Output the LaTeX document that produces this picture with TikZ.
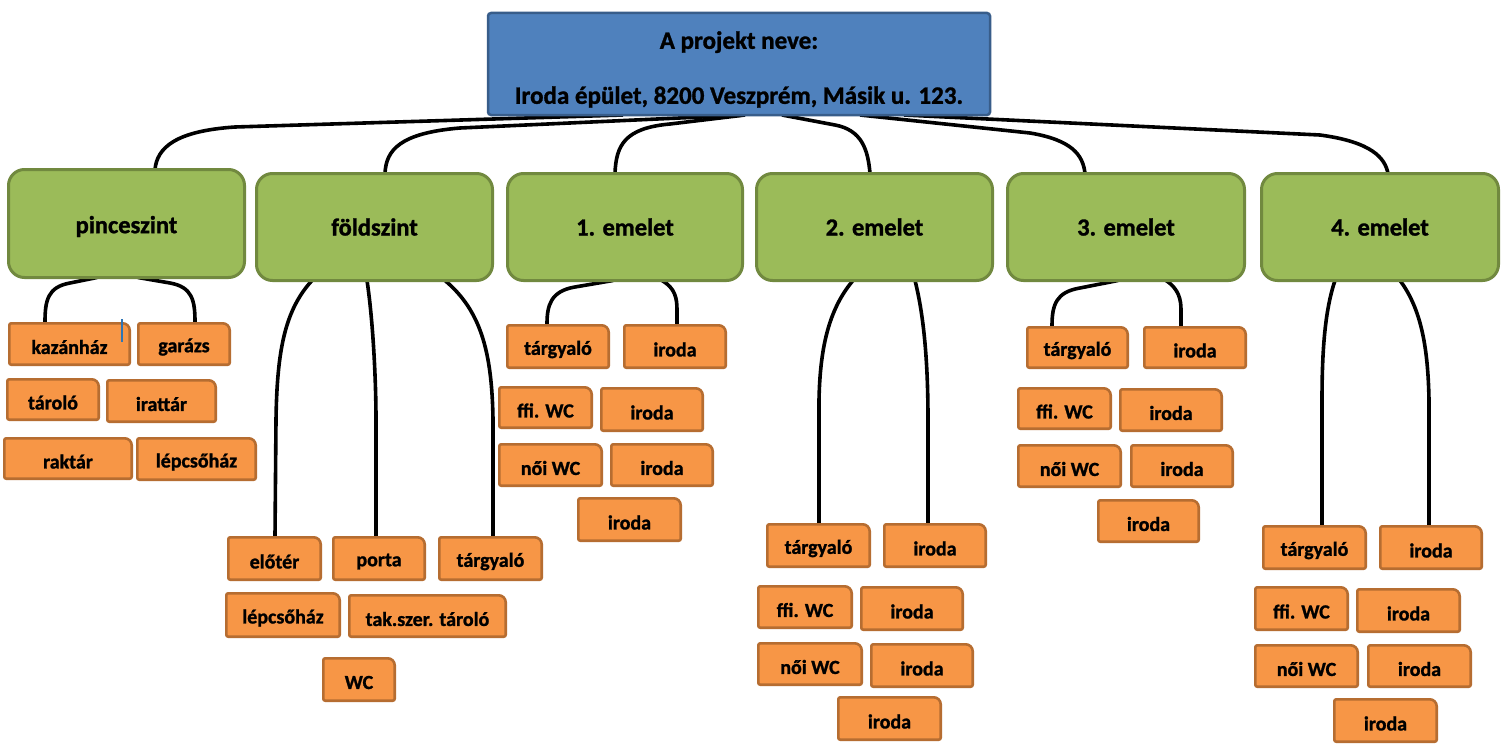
\documentclass[tikz,border=0pt]{standalone}
\usepackage{fontspec}
\setmainfont{Carlito}[BoldFeatures={FakeBold=1.2}]
\usetikzlibrary{calc,backgrounds}
\definecolor{rootfill}{HTML}{4F81BD}
\definecolor{rootdraw}{HTML}{385D8A}
\definecolor{grfill}{HTML}{9BBB59}
\definecolor{grdraw}{HTML}{71893F}
\definecolor{orfill}{HTML}{F79646}
\definecolor{ordraw}{HTML}{B66D31}
\definecolor{cursorblue}{HTML}{2E75B6}
\tikzset{
  conn/.style={line width=3.6pt, black},
  rootbox/.style={draw=rootdraw, fill=rootfill, line width=2.5pt, rounded corners=3pt, inner sep=0pt, outer sep=0pt},
  roottext/.style={inner sep=0pt, outer sep=0pt, align=center, font=\bfseries\fontsize{25}{30}\selectfont},
  gbox/.style={draw=grdraw, fill=grfill, line width=3pt, rounded corners=16pt, inner sep=0pt, outer sep=0pt, font=\bfseries\fontsize{24.5}{28}\selectfont},
  otext/.style={inner sep=0pt, outer sep=0pt, font=\bfseries\fontsize{20}{24}\selectfont},
  oframe/.style={draw=ordraw, fill=orfill, line width=2.6pt},
}
\newcommand{\lowertext}[1]{\raisebox{-3pt}[\height][\depth]{#1}}
\newcommand{\obox}[6]{%
  \draw[oframe] [rounded corners=2pt] (#2+1.3,#5-1.3) -- (#2+1.3,#3+1.3) [rounded corners=7pt] -- (#4-1.3,#3+1.3) [rounded corners=2pt] -- (#4-1.3,#5-1.3) -- cycle;
  \node[otext, minimum width={#4-#2}, minimum height={#5-#3}] (#1) at ({(#2+#4)/2},{(#3+#5)/2}) {\lowertext{#6}};
}
\begin{document}
\begin{tikzpicture}[x=1pt, y=-1pt]
\useasboundingbox (0,0) rectangle (1505,752);

% root
\node[rootbox, minimum width=502, minimum height=102] (root) at (739,64) {};
\node[roottext] (roottxt) at (739,69.5) {A projekt neve:\\[25pt]Iroda épület, 8200 Veszprém, Másik u. 123.};

% level 1
\node[gbox, minimum width=236, minimum height=108] (pince) at (126.5,223.5) {\lowertext{pinceszint}};
\node[gbox, minimum width=236, minimum height=107] (fold) at (374.5,227) {földszint};
\node[gbox, minimum width=235, minimum height=107] (em1) at (625,227) {1. emelet};
\node[gbox, minimum width=236, minimum height=107] (em2) at (874.5,227) {2. emelet};
\node[gbox, minimum width=237, minimum height=107] (em3) at (1126,227) {3. emelet};
\node[gbox, minimum width=237, minimum height=107] (em4) at (1380,227) {4. emelet};

% pinceszint
\obox{p1}{8}{322}{131}{366}{kazánház}
\obox{p2}{137}{322}{231}{366}{garázs}
\obox{p3}{6}{378}{100}{421}{tároló}
\obox{p4}{106}{379}{217}{423}{irattár}
\obox{p5}{3}{437}{133}{480}{raktár}
\obox{p6}{136}{437}{257}{481}{lépcsőház}
\draw[cursorblue, line width=1.2pt] (122,319) -- (122,342);

% foldszint
\obox{f1}{227}{536}{322}{581}{előtér}
\obox{f2}{332}{536}{426}{581}{porta}
\obox{f3}{438}{536}{543}{581}{tárgyaló}
\obox{f4}{225}{592}{341}{638}{lépcsőház}
\obox{f5}{348}{594}{507}{638}{tak.szer. tároló}
\obox{f6}{322}{657}{396}{702}{WC}

% 1. emelet
\obox{a1}{506}{324}{610}{369}{tárgyaló}
\obox{a2}{623}{324}{727}{369}{iroda}
\obox{a3}{498}{386}{593}{429}{ffi. WC}
\obox{a4}{600}{387}{704}{432}{iroda}
\obox{a5}{498}{443}{603}{487}{női WC}
\obox{a6}{610}{443}{714}{487}{iroda}
\obox{a7}{577}{497}{682}{542}{iroda}

% 2. emelet
\obox{b1}{766}{523}{871}{568}{tárgyaló}
\obox{b2}{883}{523}{987}{568}{iroda}
\obox{b3}{757}{585}{853}{629}{ffi. WC}
\obox{b4}{860}{586}{964}{631}{iroda}
\obox{b5}{757}{642}{863}{686}{női WC}
\obox{b6}{870}{643}{974}{688}{iroda}
\obox{b7}{837}{696}{942}{741}{iroda}

% 3. emelet
\obox{c1}{1026}{326}{1129}{369}{tárgyaló}
\obox{c2}{1143}{326}{1247}{369}{iroda}
\obox{c3}{1017}{387}{1112}{430}{ffi. WC}
\obox{c4}{1119}{388}{1223}{432}{iroda}
\obox{c5}{1017}{444}{1122}{488}{női WC}
\obox{c6}{1130}{444}{1234}{488}{iroda}
\obox{c7}{1097}{499}{1200}{543}{iroda}

% 4. emelet
\obox{d1}{1262}{525}{1367}{570}{tárgyaló}
\obox{d2}{1379}{525}{1483}{570}{iroda}
\obox{d3}{1254}{586}{1349}{631}{ffi. WC}
\obox{d4}{1356}{588}{1461}{633}{iroda}
\obox{d5}{1254}{644}{1359}{688}{női WC}
\obox{d6}{1367}{644}{1472}{688}{iroda}
\obox{d7}{1333}{698}{1438}{743}{iroda}

\begin{pgfonlayer}{background}
\fill[white] (0,0) rectangle (1505,752);
% root -> level 1
\draw[conn] ([xshift=-116pt]root.south) -- (235,127) .. controls (175,131) and (157,148) .. ([xshift=28.5pt]pince.north);
\draw[conn] ([xshift=6pt]root.south) -- (460,128) .. controls (400,133) and (386,150) .. ([xshift=10.5pt]fold.north);
\draw[conn] ([xshift=6pt]root.south) -- (670,124) .. controls (625,128) and (616,145) .. ([xshift=-10pt]em1.north);
\draw[conn] ([xshift=43pt]root.south) -- (835,125) .. controls (862,130) and (868,150) .. ([xshift=-4.5pt]em2.north);
\draw[conn] ([xshift=121pt]root.south) -- (1030,133) .. controls (1072,140) and (1083,155) .. ([xshift=-41pt]em3.north);
\draw[conn] ([xshift=165pt]root.south) -- (1320,135) .. controls (1372,142) and (1385,158) .. ([xshift=8pt]em4.north);
% pinceszint
\draw[conn] ([xshift=-29.5pt]pince.south) -- (70,283) .. controls (48,287) and (45,300) .. ([xshift=-24.5pt]p1.north);
\draw[conn] ([xshift=11.5pt]pince.south) -- (170,283) .. controls (192,287) and (195,300) .. ([xshift=11pt]p2.north);
% foldszint
\draw[conn] ([xshift=-62.5pt]fold.south) .. controls (285,310) and (277,350) .. (276,420) -- ([xshift=0.5pt]f1.north);
\draw[conn] ([xshift=-7.5pt]fold.south) .. controls (373,320) and (376,380) .. (376,420) -- ([xshift=-3pt]f2.north);
\draw[conn] ([xshift=70.5pt]fold.south) .. controls (480,310) and (492,350) .. (493,420) -- ([xshift=2.5pt]f3.north);
% 1. emelet
\draw[conn] ([xshift=-12pt]em1.south) -- (575,287) .. controls (551,291) and (547,305) .. ([xshift=-11pt]a1.north);
\draw[conn] ([xshift=37pt]em1.south) .. controls (675,288) and (677,298) .. (677,310) -- ([xshift=2pt]a2.north);
% 2. emelet
\draw[conn] ([xshift=-21.5pt]em2.south) .. controls (828,310) and (820,350) .. (819,400) -- ([xshift=0.5pt]b1.north);
\draw[conn] ([xshift=40.5pt]em2.south) .. controls (925,320) and (928,370) .. (928,420) -- ([xshift=-7pt]b2.north);
% 3. emelet
\draw[conn] ([xshift=-8pt]em3.south) -- (1080,288) .. controls (1056,292) and (1052,305) .. ([xshift=-25.5pt]c1.north);
\draw[conn] ([xshift=40pt]em3.south) .. controls (1179,289) and (1181,300) .. (1181,310) -- ([xshift=-14pt]c2.north);
% 4. emelet
\draw[conn] ([xshift=-45pt]em4.south) .. controls (1325,310) and (1322,350) .. (1322,400) -- ([xshift=7.5pt]d1.north);
\draw[conn] ([xshift=20pt]em4.south) .. controls (1422,310) and (1428,350) .. (1429,400) -- ([xshift=-2pt]d2.north);
\end{pgfonlayer}
\end{tikzpicture}
\end{document}
